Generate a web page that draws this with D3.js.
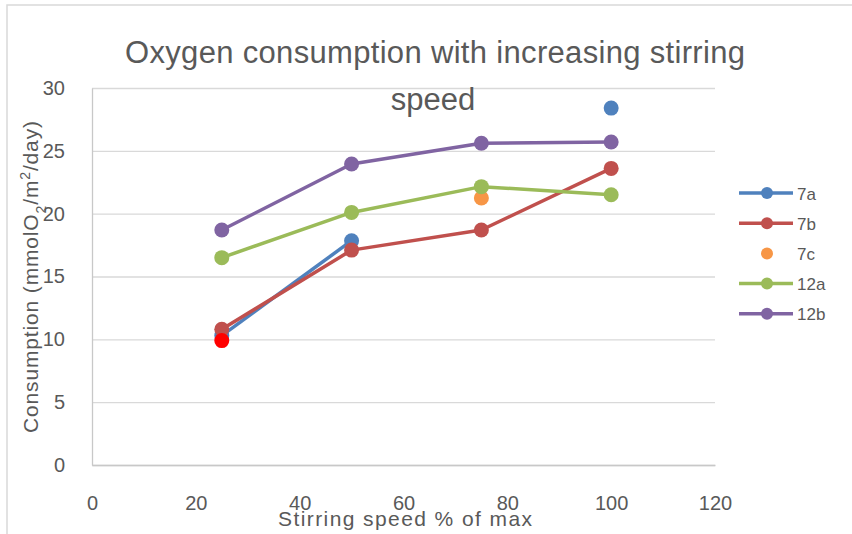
<!DOCTYPE html>
<html>
<head>
<meta charset="utf-8">
<script src="https://cdn.jsdelivr.net/npm/d3@7"></script>
<style>
  body { margin: 0; background: #fff; }
  text { font-family: "Liberation Sans", Arial, sans-serif; fill: #595959; }
</style>
</head>
<body>
<div id="chart-area"></div>
<script>
// data
const speeds = [25, 50, 75, 100];
const s7a  = [10.3, 17.85, null, 28.4];
const s7b  = [10.8, 17.1, 18.7, 23.6];
const s7c  = [9.9, null, 21.25, null];
const s12a = [16.5, 20.1, 22.15, 21.5];
const s12b = [18.7, 23.95, 25.6, 25.7];
const seriesNames = ["7a", "7b", "7c", "12a", "12b"];
const xTicks = [0, 20, 40, 60, 80, 100, 120];
const yTicks = [0, 5, 10, 15, 20, 25, 30];

/* dimensions */
const W = 852, H = 534;
const margin = { left: 92, right: 137, top: 88, bottom: 69 };
const width = W - margin.left - margin.right,
      height = H - margin.top - margin.bottom;

const svg = d3.select("#chart-area").append("svg")
    .attr("width", W)
    .attr("height", H);

// chart border
svg.append("rect")
    .attr("x", 7).attr("y", 5)
    .attr("width", 900).attr("height", 600)
    .attr("fill", "none")
    .attr("stroke", "#d9d9d9")
    .attr("stroke-width", 1.5);

const g = svg.append("g")
    .attr("transform", "translate(" + margin.left + "," + margin.top + ")");

const x = d3.scaleLinear().domain([0, 120]).range([0, width]);
const y = d3.scaleLinear().domain([0, 30]).range([height, 0]);

// gridlines
g.append("g")
    .call(d3.axisLeft(y).tickValues(yTicks).tickSize(-width).tickFormat(""))
    .call(a => a.select(".domain").remove())
    .call(a => a.selectAll("line").attr("stroke", "#d9d9d9").attr("stroke-width", 1.3));

// y axis
const yAxis = g.append("g")
    .call(d3.axisLeft(y).tickValues(yTicks).tickSize(0).tickPadding(27));
yAxis.select(".domain").attr("stroke", "#c8c8c8").attr("stroke-width", 1.3);
yAxis.selectAll("text").style("font-size", "20px").attr("fill", "#595959");

// x axis
const xAxis = g.append("g")
    .attr("transform", "translate(0," + height + ")")
    .call(d3.axisBottom(x).tickValues(xTicks).tickSize(0).tickPadding(31));
xAxis.select(".domain").attr("stroke", "#c8c8c8").attr("stroke-width", 1.3);
xAxis.selectAll("text").style("font-size", "20px").attr("fill", "#595959");

// title
svg.append("text")
    .attr("x", 435).attr("y", 63)
    .attr("text-anchor", "middle")
    .attr("textLength", 620)
    .attr("lengthAdjust", "spacing")
    .style("font-size", "31px")
    .text("Oxygen consumption with increasing stirring");
svg.append("text")
    .attr("x", 433).attr("y", 110)
    .attr("text-anchor", "middle")
    .style("font-size", "31px")
    .text("speed");

// axis labels
svg.append("text")
    .attr("x", 405).attr("y", 526)
    .attr("text-anchor", "middle")
    .attr("textLength", 254)
    .attr("lengthAdjust", "spacing")
    .style("font-size", "21px")
    .text("Stirring speed % of max");

const yLabel = svg.append("text")
    .attr("transform", "translate(38,277) rotate(-90)")
    .attr("text-anchor", "middle")
    .attr("textLength", 312)
    .attr("lengthAdjust", "spacing")
    .style("font-size", "21px");
yLabel.append("tspan").text("Consumption (mmolO");
yLabel.append("tspan").attr("baseline-shift", "sub").style("font-size", "14px").text("2");
yLabel.append("tspan").text("/m");
yLabel.append("tspan").attr("baseline-shift", "super").style("font-size", "14px").text("2");
yLabel.append("tspan").text("/day)");

// series
const series = [
    { name: "7a",  values: s7a,  color: "#4F81BD", line: true },
    { name: "7b",  values: s7b,  color: "#C0504D", line: true },
    { name: "7c",  values: s7c,  color: "#F79646", line: false, pointColor: { 0: "#FF0000" } },
    { name: "12a", values: s12a, color: "#9BBB59", line: true },
    { name: "12b", values: s12b, color: "#8064A2", line: true }
];

const line = d3.line()
    .defined(d => d.v != null)
    .x(d => x(d.s))
    .y(d => y(d.v));

series.forEach(s => {
    const pts = speeds.map((sp, i) => ({ s: sp, v: s.values[i], i: i }));
    const sg = g.append("g");
    if (s.line) {
        sg.append("path")
            .datum(pts)
            .attr("fill", "none")
            .attr("stroke", s.color)
            .attr("stroke-width", 3.5)
            .attr("stroke-linejoin", "round")
            .attr("d", line);
    }
    sg.selectAll("circle")
        .data(pts.filter(d => d.v != null))
        .enter().append("circle")
            .attr("cx", d => x(d.s))
            .attr("cy", d => y(d.v))
            .attr("r", 7.5)
            .attr("fill", d => (s.pointColor && s.pointColor[d.i]) || s.color);
});

// legend
const legend = svg.append("g").attr("transform", "translate(739,193)");
series.forEach((s, i) => {
    const row = legend.append("g").attr("transform", "translate(0," + (i * 30.2) + ")");
    if (s.line) {
        row.append("line")
            .attr("x1", 0).attr("x2", 54)
            .attr("stroke", s.color)
            .attr("stroke-width", 3.5);
    }
    row.append("circle")
        .attr("cx", 28).attr("r", 6)
        .attr("fill", s.color);
    row.append("text")
        .attr("x", 58).attr("y", 6.5)
        .style("font-size", "17px")
        .text(seriesNames[i]);
});
</script>
</body>
</html>
